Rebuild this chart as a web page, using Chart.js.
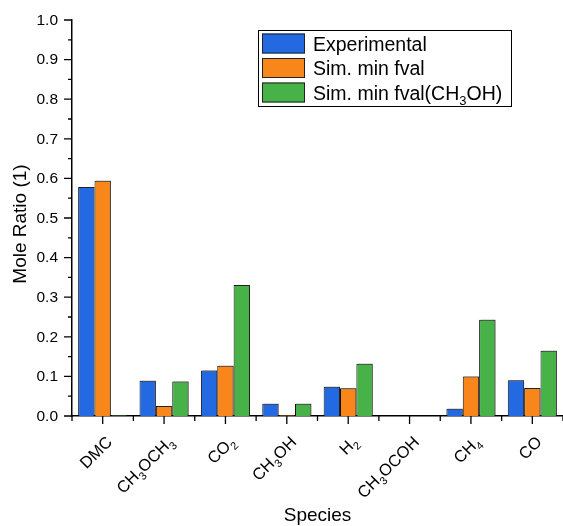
<!DOCTYPE html>
<html><head><meta charset="utf-8">
<script src="https://cdn.jsdelivr.net/npm/chart.js@4/dist/chart.umd.min.js"></script>
<style>html,body{margin:0;padding:0;background:#fff;}#wrap{width:563px;height:526px;}</style>
</head><body><div id="wrap"><canvas id="c" width="563" height="526"></canvas></div>
<script>
const categories = ["DMC","CH₃OCH₃","CO₂","CH₃OH","H₂","CH₃OCOH","CH₄","CO"];
const experimental    = [0.578,0.089,0.115,0.031,0.074,0,0.018,0.090];
const simMinFval      = [0.594,0.025,0.127,0.002,0.070,0,0.100,0.071];
const simMinFvalCH3OH = [0.002,0.087,0.331,0.031,0.132,0,0.243,0.165];
const seriesNames = ["Experimental","Sim. min fval","Sim. min fval(CH₃OH)"];
const seriesColors = ["#236AE2","#F8861A","#47B247"];
const xTitle = "Species";
const yTitle = "Mole Ratio (1)";

const FONT = '"Liberation Sans", Arial, sans-serif';
const SUB = {'₀':'0','₁':'1','₂':'2','₃':'3','₄':'4','₅':'5','₆':'6','₇':'7','₈':'8','₉':'9'};
function segs(t){const out=[];for(const ch of t){const sub=ch in SUB;const c=sub?SUB[ch]:ch;if(out.length&&out[out.length-1].sub===sub)out[out.length-1].t+=c;else out.push({t:c,sub});}return out;}
function richWidth(ctx,t,size){let w=0;for(const s of segs(t)){ctx.font=(s.sub?Math.round(size*0.68):size)+'px '+FONT;w+=ctx.measureText(s.t).width;}return w;}
function drawRich(ctx,t,x,y,size,align){
  const w=richWidth(ctx,t,size);
  let cx = align==='right'?x-w:(align==='center'?x-w/2:x);
  ctx.textAlign='left';ctx.textBaseline='alphabetic';
  for(const s of segs(t)){
    const fs=s.sub?Math.round(size*0.68):size;
    ctx.font=fs+'px '+FONT;
    ctx.fillText(s.t,cx,y+(s.sub?size*0.27:0));
    cx+=ctx.measureText(s.t).width;
  }
}

const shadowPlugin={id:'shadow',
  beforeDatasetsDraw(chart){const c=chart.ctx;c.save();c.shadowColor='rgba(60,60,60,0.45)';c.shadowOffsetX=1.5;c.shadowOffsetY=-1;c.shadowBlur=0;},
  afterDatasetsDraw(chart){chart.ctx.restore();}
};

const decor={id:'decor',
  afterDraw(chart){
    const ctx=chart.ctx, xs=chart.scales.x, ys=chart.scales.y, a=chart.chartArea;
    ctx.save();
    ctx.strokeStyle='#000';ctx.fillStyle='#000';ctx.lineWidth=1.3;
    const yt=ys.ticks.map(t=>t.value);
    ctx.beginPath();
    yt.forEach((v,i)=>{const p=ys.getPixelForValue(v);ctx.moveTo(a.left-8,p);ctx.lineTo(a.left,p);
      if(i<yt.length-1){const m=ys.getPixelForValue((v+yt[i+1])/2);ctx.moveTo(a.left-4,m);ctx.lineTo(a.left,m);}});
    categories.forEach((c,i)=>{const p=xs.getPixelForTick(i);ctx.moveTo(p,a.bottom);ctx.lineTo(p,a.bottom+8);});
    for(let i=0;i<=categories.length;i++){const p=xs.getPixelForValue(i-0.5);ctx.moveTo(p,a.bottom);ctx.lineTo(p,a.bottom+5);}
    ctx.stroke();
    ctx.font='15.5px '+FONT;ctx.textAlign='right';ctx.textBaseline='middle';
    ys.ticks.forEach(t=>{ctx.fillText(t.value.toFixed(1),a.left-14,ys.getPixelForValue(t.value)+0.5);});
    categories.forEach((c,i)=>{const p=xs.getPixelForTick(i);ctx.save();ctx.translate(p+10.5,a.bottom+27);ctx.rotate(-Math.PI/4);drawRich(ctx,c,0,0,16.5,'right');ctx.restore();});
    ctx.font='19px '+FONT;ctx.textAlign='center';ctx.textBaseline='alphabetic';
    ctx.fillText(xTitle,(a.left+a.right)/2,520.5);
    ctx.save();ctx.translate(25.5,224);ctx.rotate(-Math.PI/2);ctx.fillText(yTitle,0,0);ctx.restore();
    const lx=258,ly=30,lw=253,lh=76;
    ctx.fillStyle='#fff';ctx.fillRect(lx,ly,lw,lh);
    ctx.lineWidth=1;ctx.strokeStyle='#000';ctx.strokeRect(lx+0.5,ly+0.5,lw,lh);
    seriesNames.forEach((n,i)=>{
      const sy=ly+3.5+i*24.5;
      ctx.fillStyle=seriesColors[i];ctx.fillRect(262,sy,43,20);
      ctx.strokeStyle='#222';ctx.lineWidth=1;ctx.strokeRect(262.5,sy+0.5,42,19);
      ctx.fillStyle='#000';drawRich(ctx,n,313,sy+17,19.5,'left');
    });
    ctx.restore();
  }
};

const ds=[experimental,simMinFval,simMinFvalCH3OH].map((d,i)=>({label:seriesNames[i],data:d,backgroundColor:seriesColors[i],borderColor:'#111',borderWidth:1,categoryPercentage:0.8,barPercentage:1.0}));

new Chart(document.getElementById('c'),{
  type:'bar',
  data:{labels:categories,datasets:ds},
  options:{responsive:false,animation:false,devicePixelRatio:1,
    layout:{padding:{top:20,right:0,left:0,bottom:0}},
    plugins:{legend:{display:false},tooltip:{enabled:false}},
    scales:{
      x:{grid:{display:false},border:{display:true,color:'#000',width:1.5},ticks:{display:false},afterFit:s=>{s.height=110;}},
      y:{min:0,max:1,ticks:{stepSize:0.1,display:false},grid:{display:false},border:{display:true,color:'#000',width:1.5},afterFit:s=>{s.width=72;}}
    }
  },
  plugins:[shadowPlugin,decor]
});
</script></body></html>
